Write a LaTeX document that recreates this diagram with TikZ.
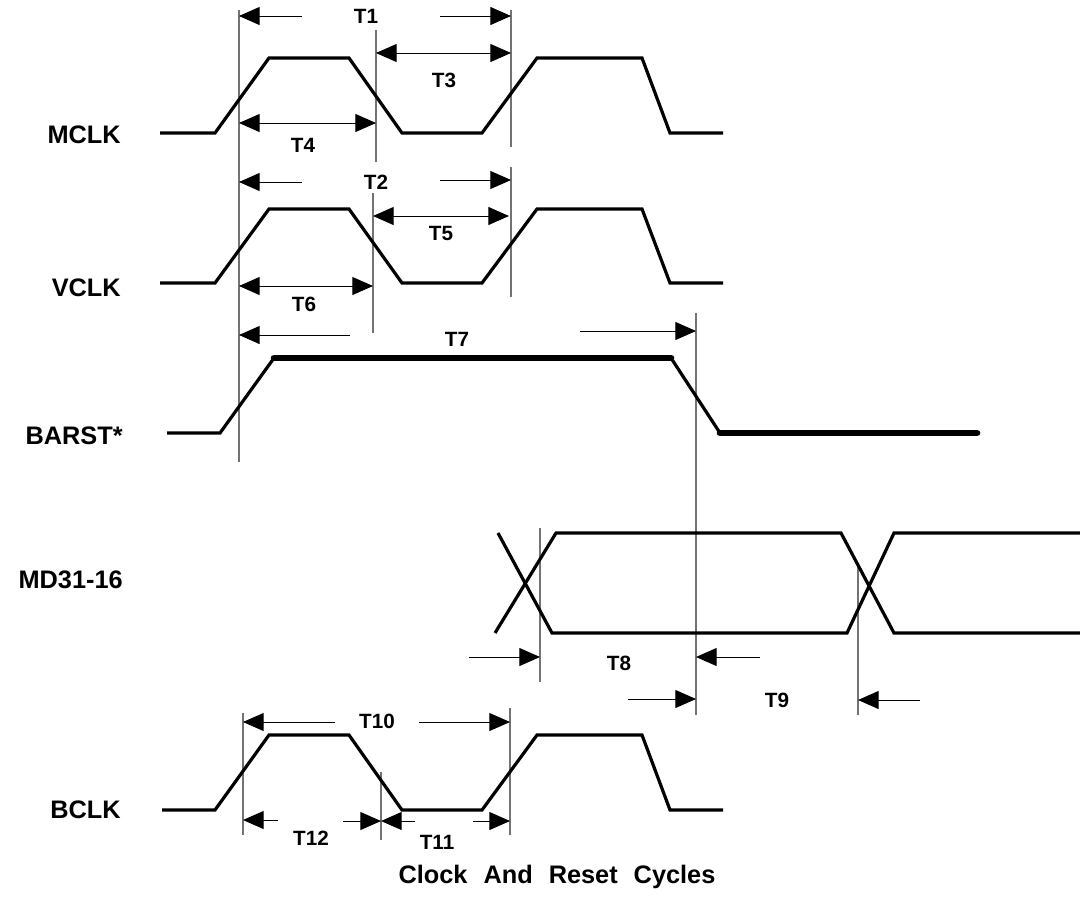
\documentclass[tikz,border=0pt]{standalone}
\usepackage{fontspec}
\setmainfont{Liberation Sans}
\usetikzlibrary{arrows.meta}
\begin{document}
\begin{tikzpicture}[x=0.75pt,y=-0.75pt,
  sig/.style={line width=2.4pt, line join=miter},
  heavy/.style={line width=5pt, line cap=round},
  guide/.style={draw=black!55, line width=0.8pt},
  dim/.style={line width=0.75pt, -{Triangle[length=15.5pt,width=13.5pt]}},
  dimboth/.style={line width=0.75pt, {Triangle[length=15.5pt,width=13.5pt]}-{Triangle[length=15.5pt,width=13.5pt]}},
  tl/.style={font=\bfseries\fontsize{15.5}{18}\selectfont, inner sep=0pt},
  sl/.style={font=\bfseries\fontsize{19}{22}\selectfont, inner sep=0pt, anchor=east},
]
\useasboundingbox (0,0) rectangle (1080,914);
% guide lines
\draw[guide] (239,10) -- (239,462);
\draw[guide] (376,30) -- (376,162);
\draw[guide] (511,10) -- (511,147);
\draw[guide] (373,193) -- (373,333);
\draw[guide] (511,167) -- (511,297);
\draw[guide] (696,313) -- (696,715);
\draw[guide] (540,528) -- (540,682);
\draw[guide] (858,565) -- (858,715);
\draw[guide] (243,713) -- (243,835);
\draw[guide] (381,772) -- (381,840);
\draw[guide] (510,708) -- (510,835);
% signal labels
\node[sl] (lm) at (121,135) {MCLK};
\node[sl] (lv) at (121,288) {VCLK};
\node[sl] (lb) at (123,436) {BARST*};
\node[sl] (ld) at (123,580) {MD31-16};
\node[sl] (lc) at (121,810) {BCLK};
% MCLK
\draw[sig] (160,133) -- (215,133) -- (269,58) -- (349,58) -- (402,133) -- (482,133) -- (537,58) -- (642,58) -- (670,133) -- (723,133);
% VCLK
\draw[sig] (160,283) -- (215,283) -- (269,209) -- (349,209) -- (402,283) -- (482,283) -- (537,209) -- (642,209) -- (670,283) -- (723,283);
% BARST*
\draw[sig] (167,433) -- (220,433) -- (274,358);
\draw[heavy] (274,358) -- (671,358);
\draw[sig] (671,358) -- (720,433);
\draw[heavy] (720,433) -- (977,433);
% MD31-16
\draw[sig] (498,533) -- (552,633) -- (847,633) -- (894,533) -- (1080,533);
\draw[sig] (495,633) -- (556,533) -- (841,533) -- (894,633) -- (1080,633);
% BCLK
\draw[sig] (162,810) -- (215,810) -- (269,735) -- (349,735) -- (402,810) -- (482,810) -- (537,735) -- (642,735) -- (670,810) -- (723,810);
% MCLK dimensions
\draw[dim] (302,16) -- (239,16);
\draw[dim] (440,16) -- (511,16);
\node[tl] (t1) at (366,16) {T1};
\draw[dimboth] (376,53) -- (511,53);
\node[tl] (t3) at (444,80) {T3};
\draw[dimboth] (239,123) -- (376,123);
\node[tl] (t4) at (303,145) {T4};
% VCLK dimensions
\draw[dim] (302,182) -- (239,182);
\draw[dim] (440,180) -- (511,180);
\node[tl] (t2) at (376,182) {T2};
\draw[dimboth] (373,216) -- (509,216);
\node[tl] (t5) at (441,233) {T5};
\draw[dimboth] (239,286) -- (373,286);
\node[tl] (t6) at (304,304) {T6};
% BARST dimensions
\draw[dim] (350,335) -- (239,335);
\draw[dim] (580,331) -- (696,331);
\node[tl] (t7) at (457,339) {T7};
% MD dimensions
\draw[dim] (469,657) -- (540,657);
\draw[dim] (760,657) -- (696,657);
\node[tl] (t8) at (619,663) {T8};
\draw[dim] (628,699) -- (696,699);
\draw[dim] (920,700) -- (858,700);
\node[tl] (t9) at (777,700) {T9};
% BCLK dimensions
\draw[dim] (335,722) -- (243,722);
\draw[dim] (419,722) -- (510,722);
\node[tl] (t10) at (377,721) {T10};
\draw[dim] (278,820) -- (243,820);
\draw[dim] (343,821) -- (381,821);
\node[tl] (t12) at (311,838) {T12};
\draw[dim] (415,821) -- (381,821);
\draw[dim] (473,821) -- (510,821);
\node[tl] (t11) at (437,842) {T11};
% title
\node[font=\bfseries\fontsize{19}{22}\selectfont, inner sep=0pt] (title) at (557,877) {Clock\hspace{12pt}And\hspace{12pt}Reset\hspace{12pt}Cycles};
\end{tikzpicture}
\end{document}
